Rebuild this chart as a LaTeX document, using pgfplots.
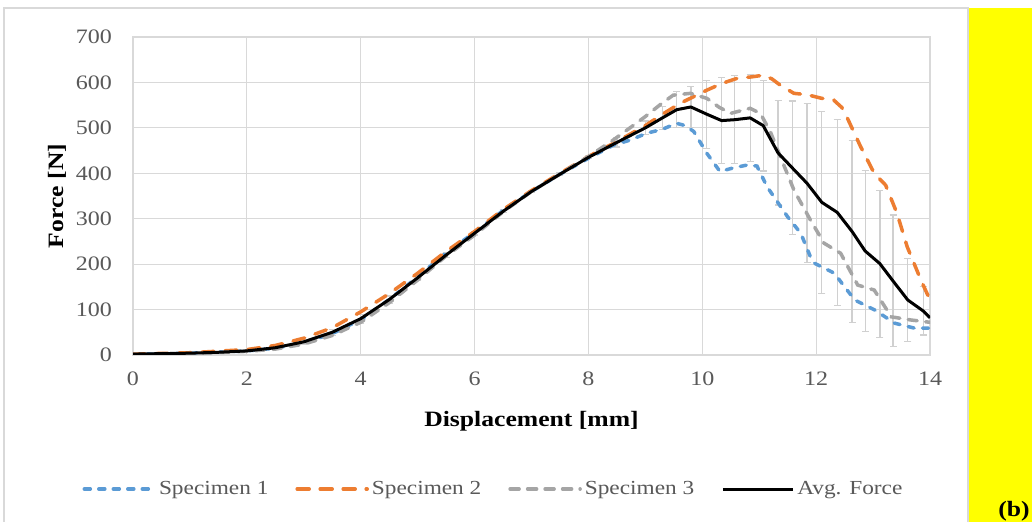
\documentclass[border=0pt]{standalone}
\usepackage{pgfplots}
\pgfplotsset{compat=1.18}
\usepackage{pgfplotstable}
\usepackage{fontspec}
\setmainfont{Liberation Serif}[FakeStretch=1.17]
\definecolor{cA}{HTML}{5B9BD5}
\definecolor{cB}{HTML}{ED7D31}
\definecolor{cC}{HTML}{A5A5A5}
\definecolor{gridc}{HTML}{D9D9D9}
\definecolor{errc}{HTML}{D0D0D0}
\definecolor{tickc}{HTML}{595959}
\definecolor{yel}{HTML}{FFFF00}

\pgfplotstableread{
x y e
0 2 1
0.5 3 1
1 4 1
1.5 6 2
2 9 2
2.5 16 3
3 29 5
3.5 50 7
4 80 10
4.5 122 8
5 170 6
5.5 220 5
6 268 4
6.5 316 3
7 360 2
7.5 398 3
8 435 3
8.5 468 10
9 500 15
9.3 522 25
9.55 540 40
9.8 546 45
10.08 530 75
10.34 516 95
10.57 518 97
10.84 522 96
11.07 505 100
11.33 445 115
11.58 412 147
11.84 378 175
12.1 336 200
12.37 314 205
12.63 272 200
12.86 229 178
13.12 201 162
13.35 163 145
13.61 121 92
13.88 97 53
14 82 0
}\avg

\pgfplotstableread{
x y
0 2
1 4
2 9
2.5 15
3 27
3.5 47
4 78
4.5 122
5 172
5.5 225
6 270
6.5 318
7 360
7.5 398
8 433
8.44 462
8.73 473
9.02 488
9.3 497
9.55 510
9.7 505
9.85 492
10.08 444
10.31 404
10.55 412
10.78 418
10.96 416
11.14 370
11.5 304
11.73 268
11.9 216
11.97 202
12.32 180
12.5 150
12.68 121
13.03 99
13.38 70
13.73 59
14 59
}\sA

\pgfplotstableread{
x y
0 2
1 5
2 12
2.5 21
3 37
3.5 60
4 95
4.5 135
5 180
5.5 228
6 272
6.5 320
7 362
7.5 400
8 437
8.5 470
9 505
9.3 530
9.61 554
10.08 583
10.35 598
10.61 609
10.85 612
11.08 616
11.22 608
11.37 594
11.61 576
11.84 573
12.1 565
12.31 561
12.45 545
12.55 521
12.78 459
13.02 400
13.22 374
13.42 312
13.6 238
13.84 165
14 121
}\sB

\pgfplotstableread{
x y
0 1
1 3
2 8
2.5 13
3 24
3.5 43
4 72
4.5 115
5 165
5.5 218
6 264
6.5 315
7 360
7.5 398
8 437
8.4 470
8.73 500
9.0 525
9.3 555
9.49 572
9.79 576
10.08 565
10.3 545
10.5 532
10.84 543
11.02 532
11.2 490
11.37 437
11.61 363
11.9 297
12.14 246
12.43 224
12.73 154
13.02 143
13.32 84
13.67 77
14 72
}\sC

\begin{document}
\begin{tikzpicture}
\path[use as bounding box] (0bp,0bp) rectangle (516bp,261bp);
\clip (0bp,0bp) rectangle (516bp,261bp);
\fill[white] (0bp,0bp) rectangle (516bp,261bp);
\draw[gridc, line width=0.6bp] (2bp,-5bp) rectangle (484bp,257bp);
\fill[yel] (484.5bp,-5bp) rectangle (520bp,257bp);
\node[anchor=north west, inner sep=0pt, font=\bfseries\fontsize{11}{13}\selectfont] at (499bp,10.5bp) {(b)};
\begin{axis}[
  at={(66.5bp,83.5bp)}, anchor=south west,
  scale only axis, width=398.5bp, height=159bp,
  xmin=0, xmax=14, ymin=0, ymax=700,
  xtick={0,2,...,14}, ytick={0,100,...,700},
  grid=major, major grid style={gridc, line width=0.6bp},
  axis line style={gridc, line width=0.6bp},
  major tick length=0pt,
  /pgf/number format/assume math mode=true,
  tick label style={font=\fontsize{10.3}{12}\selectfont, text=tickc},
  yticklabel style={xshift=-7bp},
  xticklabel style={yshift=-5bp},
  xlabel={Displacement [mm]}, ylabel={Force [N]},
  label style={font=\bfseries\fontsize{11}{13}\selectfont, text=black},
  xlabel style={at={(axis description cs:0.5,-0.2075)}, anchor=center},
  ylabel style={at={(axis description cs:-0.0954,0.5)}, anchor=center},
  legend columns=4,
  legend cell align=left,
  legend style={draw=none, fill=none, at={(axis description cs:0.4529,-0.4214)}, anchor=center,
    font=\fontsize{10}{12}\selectfont, text=tickc,
    nodes={inner xsep=1.5bp},
    /tikz/every odd column/.append style={column sep=0bp},
    /tikz/every even column/.append style={column sep=12bp}},
  legend image code/.code={\draw[#1] (0bp,0bp) -- (35bp,0bp);},
]
\addplot[forget plot, draw=none, mark=none,
  error bars/.cd, y dir=both, y explicit,
  error bar style={draw=errc, line width=0.6bp},
  error mark options={rotate=90, draw=errc, mark size=1.75bp, line width=0.6bp}]
  table[x=x, y=y, y error=e] {\avg};
\addplot[cA, mark=none, line width=1.75bp, line cap=round, dash pattern=on 3bp off 4.25bp] table[x=x,y=y] {\sA};
\addlegendentry{Specimen 1}
\addplot[cB, mark=none, line width=1.75bp, line cap=round, dash pattern=on 6bp off 5.5bp] table[x=x,y=y] {\sB};
\addlegendentry{Specimen 2}
\addplot[cC, mark=none, line width=1.75bp, line cap=round, dash pattern=on 4.5bp off 4.25bp] table[x=x,y=y] {\sC};
\addlegendentry{Specimen 3}
\addplot[black, mark=none, line width=1.5bp, line join=round] table[x=x,y=y] {\avg};
\addlegendentry{Avg. Force}
\end{axis}
\end{tikzpicture}
\end{document}
